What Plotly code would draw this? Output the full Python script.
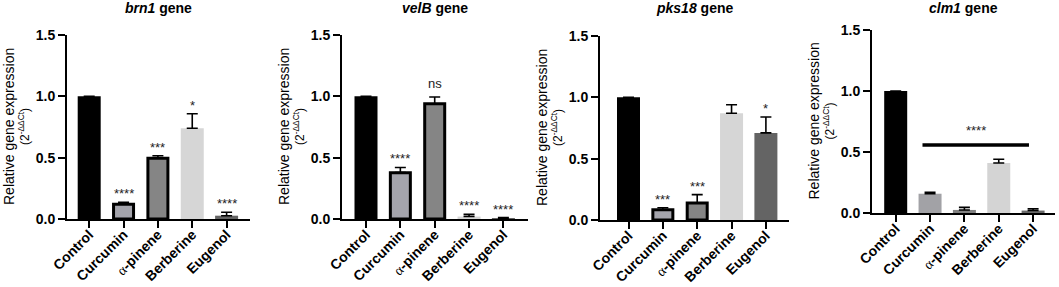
import plotly.graph_objects as go

W, H = 1059, 287

categories = ["Control", "Curcumin", "α-pinene", "Berberine", "Eugenol"]
tick_labels = ["Control", "Curcumin",
               "<span style='font-family:Liberation Serif;font-weight:normal'>α</span>-pinene",
               "Berberine", "Eugenol"]

genes = ["brn1", "velB", "pks18", "clm1"]

brn1_mean = [1.0, 0.12, 0.495, 0.74, 0.027]
brn1_err = [0.0, 0.017, 0.021, 0.118, 0.028]
brn1_sig = ["", "****", "***", "*", "****"]

velB_mean = [1.0, 0.378, 0.94, 0.02, 0.005]
velB_err = [0.0, 0.042, 0.055, 0.018, 0.007]
velB_sig = ["", "****", "ns", "****", "****"]

pks18_mean = [1.0, 0.084, 0.139, 0.87, 0.71]
pks18_err = [0.0, 0.016, 0.068, 0.07, 0.13]
pks18_sig = ["", "***", "***", "", "*"]

clm1_mean = [1.0, 0.158, 0.025, 0.41, 0.02]
clm1_err = [0.0, 0.012, 0.021, 0.03, 0.015]
clm1_sig = ["", "", "", "", ""]
clm1_group_sig = "****"
clm1_group_y = 0.558
clm1_group_label_y = 0.68

y_ticks = [0, 0.5, 1.0, 1.5]
y_tick_labels = ["0.0", "0.5", "1.0", "1.5"]

means = [brn1_mean, velB_mean, pks18_mean, clm1_mean]
errs = [brn1_err, velB_err, pks18_err, clm1_err]
sigs = [brn1_sig, velB_sig, pks18_sig, clm1_sig]

# styling
colors_a = ["#000000", "#a4a4ac", "#858585", "#d6d6d6", "#646464"]
colors_b = ["#000000", "#a2a2a6", "#828282", "#d4d4d4", "#6a6a6a"]
panel_colors = [colors_a, colors_a, colors_a, colors_b]
border_w = [
    [0, 3, 3, 0, 0],
    [0, 3, 3, 0, 0],
    [0, 3, 3, 0, 0],
    [0, 0, 0, 0, 0],
]
# pixel layout of each panel: x axis left/right, y pixel of 0 and 1.5
px_x = [(67, 250), (342, 528), (600, 789), (872, 1055)]
px_y = [(219, 35), (219, 35), (220, 36), (213, 30)]
bar_px = 23.0
cat_px = 34.35
first_center = [89.2, 366.0, 628.5, 895.7]

FONT = "Liberation Sans, Arial, sans-serif"

fig = go.Figure()
layout = dict(
    width=W, height=H, margin=dict(l=0, r=0, t=0, b=0, pad=0),
    autosize=False,
    paper_bgcolor="white", plot_bgcolor="white", showlegend=False,
    font=dict(family=FONT, color="black"),
    annotations=[], shapes=[],
)

for i in range(4):
    n = i + 1
    xs = "x" if n == 1 else f"x{n}"
    ys = "y" if n == 1 else f"y{n}"
    xl, xr = px_x[i]
    y0, y15 = px_y[i]
    rng = [(xl - first_center[i]) / cat_px, (xr - first_center[i]) / cat_px]
    widths = [(bar_px - bw) / cat_px if bw else bar_px / cat_px for bw in border_w[i]]
    fig.add_trace(go.Bar(
        x=list(range(5)), y=means[i], width=widths,
        xaxis=xs, yaxis=ys,
        marker=dict(color=panel_colors[i],
                    line=dict(color="black", width=border_w[i])),
        error_y=dict(type="data", symmetric=False, array=errs[i],
                     arrayminus=[0] * 5, color="black", thickness=1.6, width=5.5),
        hoverinfo="skip",
    ))
    layout["xaxis" if n == 1 else f"xaxis{n}"] = dict(
        domain=[xl / W, xr / W], range=rng, anchor=ys, automargin=False,
        tickvals=list(range(5)), ticktext=tick_labels, tickangle=-45,
        ticklabelstandoff=-7,
        ticks="outside", ticklen=7, tickwidth=2, tickcolor="black",
        showline=True, linewidth=2, linecolor="black",
        showgrid=False, zeroline=False,
        tickfont=dict(family=FONT, size=14, weight="bold", color="black"),
    )
    layout["yaxis" if n == 1 else f"yaxis{n}"] = dict(
        domain=[(H - y0) / H, (H - y15) / H], range=[0, 1.5], anchor=xs,
        automargin=False,
        tickvals=y_ticks, ticktext=y_tick_labels,
        ticks="outside", ticklen=7, tickwidth=2, tickcolor="black",
        showline=True, linewidth=2, linecolor="black",
        showgrid=False, zeroline=False,
        tickfont=dict(family=FONT, size=14, weight="bold", color="black"),
    )
    # significance labels
    for j in range(5):
        if sigs[i][j]:
            is_ns = sigs[i][j] == "ns"
            layout["annotations"].append(dict(
                x=j, y=means[i][j] + errs[i][j], xref=xs, yref=ys,
                text=sigs[i][j], showarrow=False, yanchor="bottom",
                yshift=4 if is_ns else -1,
                font=dict(family=FONT, size=13, color="#222222"),
            ))
    # panel title
    layout["annotations"].append(dict(
        x=(xl + xr) / 2 / W, y=(H - 8) / H, xref="paper", yref="paper",
        text=f"<b><i>{genes[i]}</i> gene</b>", showarrow=False,
        xanchor="center", yanchor="middle",
        font=dict(family=FONT, size=14, color="black"),
    ))
    # y-axis title (two lines)
    yc = (H - (y0 + y15) / 2) / H
    layout["annotations"].append(dict(
        x=(xl - 58) / W, y=yc, xref="paper", yref="paper",
        text="Relative gene expression", textangle=-90, showarrow=False,
        xanchor="center", yanchor="middle",
        font=dict(family=FONT, size=14, color="black"),
    ))
    layout["annotations"].append(dict(
        x=(xl - 43) / W, y=yc, xref="paper", yref="paper",
        text="(2<sup>-ΔΔCt</sup>)", textangle=-90, showarrow=False,
        xanchor="center", yanchor="middle",
        font=dict(family=FONT, size=12, color="black"),
    ))

# clm1 group bar + label
layout["shapes"].append(dict(
    type="line", xref="x4", yref="y4", x0=0.78, x1=3.88,
    y0=clm1_group_y, y1=clm1_group_y, line=dict(color="black", width=3.5),
))
layout["annotations"].append(dict(
    x=(0.78 + 3.88) / 2, y=clm1_group_label_y, xref="x4", yref="y4",
    text=clm1_group_sig, showarrow=False, yanchor="middle",
    font=dict(family=FONT, size=13, color="#222222"),
))

fig.update_layout(**layout)
fig.write_html(
    "out.html",
    config={"responsive": False, "displayModeBar": False},
    post_script="document.body.style.margin='0px';document.body.style.overflow='hidden';",
)
